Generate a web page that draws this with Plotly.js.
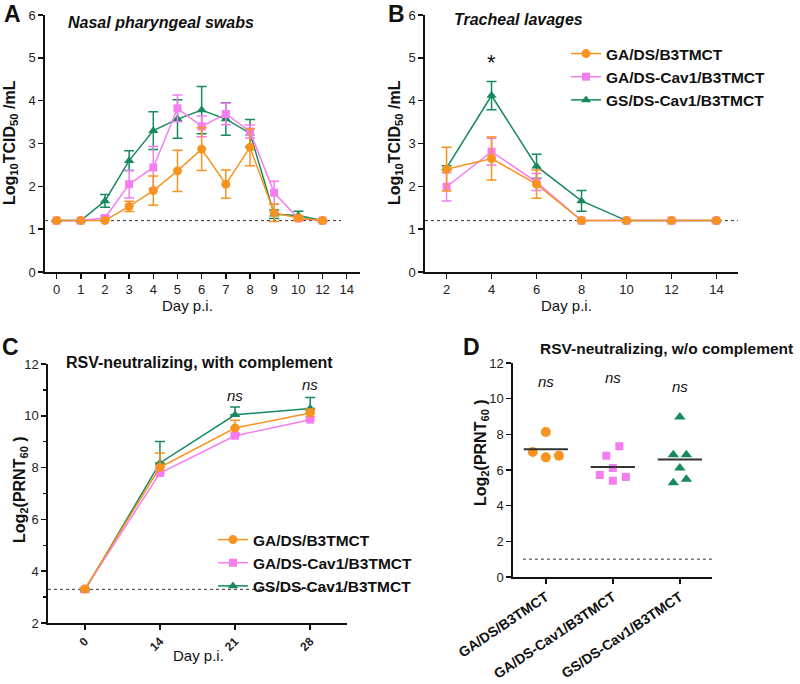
<!DOCTYPE html>
<html><head><meta charset="utf-8">
<script src="https://cdn.plot.ly/plotly-3.0.1.min.js"></script>
<style>html,body{margin:0;padding:0;background:#fff}#chart{width:800px;height:684px}</style>
</head><body><div id="chart"></div>
<script>
// ---------------- DATA ----------------
const seriesNames = ['GA/DS/B3TMCT', 'GA/DS-Cav1/B3TMCT', 'GS/DS-Cav1/B3TMCT'];

// Panel A: nasal pharyngeal swabs (Log10 TCID50/mL)
const daysA = [0, 1, 2, 3, 4, 5, 6, 7, 8, 9, 10, 12];
const tickLabelsA = ['0', '1', '2', '3', '4', '5', '6', '7', '8', '9', '10', '12', '14'];
const nasalGA = [1.2, 1.2, 1.2, 1.53, 1.90, 2.36, 2.87, 2.05, 2.91, 1.38, 1.26, 1.2];
const nasalGAerr = [0, 0, 0, 0.12, 0.34, 0.48, 0.50, 0.33, 0.43, 0.20, 0.05, 0];
const nasalGAcav = [1.2, 1.2, 1.26, 2.05, 2.44, 3.82, 3.40, 3.69, 3.28, 1.85, 1.25, 1.2];
const nasalGAcavErr = [0, 0, 0.05, 0.32, 0.49, 0.31, 0.24, 0.25, 0.15, 0.27, 0.05, 0];
const nasalGScav = [1.2, 1.2, 1.66, 2.60, 3.30, 3.57, 3.78, 3.57, 3.24, 1.35, 1.32, 1.2];
const nasalGScavErr = [0, 0, 0.15, 0.23, 0.44, 0.45, 0.55, 0.38, 0.32, 0.10, 0.10, 0];

// Panel B: tracheal lavages (Log10 TCID50/mL)
const daysB = [2, 4, 6, 8, 10, 12, 14];
const trachGA = [2.40, 2.65, 2.05, 1.2, 1.2, 1.2, 1.2];
const trachGAerr = [0.51, 0.50, 0.33, 0, 0, 0, 0];
const trachGAcav = [1.99, 2.81, 2.10, 1.2, 1.2, 1.2, 1.2];
const trachGAcavErr = [0.33, 0.31, 0.20, 0, 0, 0, 0];
const trachGScav = [2.43, 4.12, 2.47, 1.66, 1.2, 1.2, 1.2];
const trachGScavErr = [0.05, 0.33, 0.28, 0.24, 0, 0, 0];

// Panel C: RSV-neutralizing, with complement (Log2 PRNT60)
const daysC = ['0', '14', '21', '28'];
const nabGA = [3.31, 8.01, 9.53, 10.11];
const nabGAerr = [0.05, 0.55, 0.30, 0.15];
const nabGAcav = [3.30, 7.79, 9.23, 9.85];
const nabGAcavErr = [0, 0.10, 0.10, 0.10];
const nabGScav = [3.26, 8.18, 10.04, 10.28];
const nabGScavErr = [0, 0.83, 0.30, 0.43];

// Panel D: RSV-neutralizing, w/o complement (individual animals, Log2 PRNT60)
const prntGA = [8.13, 7.01, 6.71, 6.80];
const prntGAcav = [7.33, 6.80, 6.11, 5.72, 5.61, 5.40];
const prntGScav = [8.97, 6.86, 6.86, 6.11, 5.29, 5.48];

// limits of detection
const lodA = 1.2, lodB = 1.2, lodC = 3.3, lodD = 1.0;
// significance labels
const sigB = {day: 4, y: 4.9, text: '*'};
const sigC = [{day: '21', y: 10.8, text: 'ns'}, {day: '28', y: 11.2, text: 'ns'}];
const sigD = [{g: 0, y: 10.95, text: 'ns'}, {g: 1, y: 11.2, text: 'ns'}, {g: 2, y: 10.7, text: 'ns'}];

// ---------------- STYLE ----------------
const F = 'Liberation Sans, Arial, Helvetica, sans-serif';
const colors = ['#F7931E', '#F47EF0', '#168A5C'];
const symbols = ['circle', 'square', 'triangle-up'];
const msizes = [9, 8, 9];
const W = 800, H = 684;
const px = x => x / W, py = y => 1 - y / H;

const traces = [];
function addSeries(xs, ys, err, k, xa, ya, legend, upOnly) {
  const t = {
    type: 'scatter', mode: 'lines+markers', x: xs, y: ys, name: seriesNames[k],
    xaxis: xa, yaxis: ya, cliponaxis: false,
    line: {color: colors[k], width: 1.5},
    marker: {color: colors[k], symbol: symbols[k], size: msizes[k]},
    error_y: {type: 'data', array: err, visible: true, color: colors[k], thickness: 1.5, width: 5},
    showlegend: !!legend, legendrank: k + 1, hoverinfo: 'skip'
  };
  if (upOnly) { t.error_y.symmetric = false; t.error_y.arrayminus = err.map(() => 0); }
  if (legend) t.legend = legend;
  traces.push(t);
}

const xA = daysA.map(d => tickLabelsA.indexOf(String(d)));
const aY = [nasalGA, nasalGAcav, nasalGScav], aE = [nasalGAerr, nasalGAcavErr, nasalGScavErr];
const bY = [trachGA, trachGAcav, trachGScav], bE = [trachGAerr, trachGAcavErr, trachGScavErr];
const xC = daysC.map((d, i) => i);
const cY = [nabGA, nabGAcav, nabGScav], cE = [nabGAerr, nabGAcavErr, nabGScavErr];
for (const k of [2, 1, 0]) {
  addSeries(xA, aY[k], aE[k], k, 'x', 'y', null, false);
  addSeries(daysB, bY[k], bE[k], k, 'x2', 'y2', 'legend', false);
  addSeries(xC, cY[k], cE[k], k, 'x3', 'y3', 'legend2', true);
}

// Panel D: scatter dot plot with simple row-based spreading
const dGroups = [prntGA, prntGAcav, prntGScav];
const spread = 0.195, rowThresh = 0.6;
function swarm(vals, center) {
  const idx = vals.map((v, i) => i).sort((a, b) => vals[a] - vals[b]);
  const xs = new Array(vals.length);
  let i = 0;
  while (i < idx.length) {
    const row = [idx[i]];
    let j = i + 1;
    while (j < idx.length && vals[idx[j]] - vals[idx[i]] < rowThresh) { row.push(idx[j]); j++; }
    const n = row.length;
    const slots = [];
    if (n % 2 === 1) { slots.push(0); for (let s = 1; slots.length < n; s++) { slots.push(s); if (slots.length < n) slots.push(-s); } }
    else { for (let s = 0.5; slots.length < n; s++) { slots.push(-s); if (slots.length < n) slots.push(s); } }
    row.forEach((p, r) => { xs[p] = center + slots[r] * spread; });
    i = j;
  }
  return xs;
}
const shapes = [];
dGroups.forEach((vals, k) => {
  traces.push({
    type: 'scatter', mode: 'markers', x: swarm(vals, k), y: vals, name: seriesNames[k],
    xaxis: 'x4', yaxis: 'y4', showlegend: false, hoverinfo: 'skip',
    marker: {color: colors[k], symbol: symbols[k], size: k === 1 ? 8 : 10}
  });
  const mean = vals.reduce((a, b) => a + b, 0) / vals.length;
  shapes.push({type: 'line', xref: 'x4', yref: 'y4', x0: k - 0.33, x1: k + 0.33, y0: mean, y1: mean,
    line: {color: '#333', width: 2}, layer: 'above'});
});

// LOD dotted lines
[['x', 'y', lodA, 0.94], ['x2', 'y2', lodB, 1], ['x3', 'y3', lodC, 1], ['x4', 'y4', lodD, 1]].forEach(([xa, ya, v, end], i) => {
  shapes.push({type: 'line', xref: xa + ' domain', yref: ya, x0: i === 3 ? 0.05 : 0, x1: end, y0: v, y1: v,
    line: {color: '#333', width: 1, dash: 'dot'}, layer: 'below'});
});

// ---------------- AXES ----------------
const tickfont = {family: F, size: 13, color: '#222'};
const base = {showline: true, linecolor: '#111', linewidth: 1.6, ticks: 'outside', ticklen: 5, tickwidth: 1.5,
  tickcolor: '#111', showgrid: false, zeroline: false, tickfont: tickfont, fixedrange: true};

const layout = {
  width: W, height: H, margin: {l: 0, r: 0, t: 0, b: 0}, paper_bgcolor: '#fff', plot_bgcolor: 'rgba(0,0,0,0)',
  showlegend: true,
  xaxis: Object.assign({}, base, {domain: [px(45), px(360)], range: [-0.48, 12.55], tickmode: 'array',
    tickvals: tickLabelsA.map((t, i) => i), ticktext: tickLabelsA, anchor: 'y'}),
  yaxis: Object.assign({}, base, {domain: [py(272), py(15)], range: [0, 6], dtick: 1, anchor: 'x'}),
  xaxis2: Object.assign({}, base, {domain: [px(425), px(738)], range: [1.04, 14.96], tickmode: 'array',
    tickvals: daysB, anchor: 'y2'}),
  yaxis2: Object.assign({}, base, {domain: [py(272), py(15)], range: [0, 6], dtick: 1, anchor: 'x2'}),
  xaxis3: Object.assign({}, base, {domain: [px(48), px(347)], range: [-0.49, 3.49], tickmode: 'array',
    tickvals: xC, ticktext: daysC, tickangle: -45, anchor: 'y3',
    tickfont: {family: F, size: 12, color: '#222', weight: 'bold'}}),
  yaxis3: Object.assign({}, base, {domain: [py(623), py(364)], range: [2, 12], dtick: 2, anchor: 'x3',
    minor: {ticks: 'outside', dtick: 1, ticklen: 3, tickwidth: 1.2, tickcolor: '#111'}}),
  xaxis4: Object.assign({}, base, {domain: [px(513), px(712)], range: [-0.49, 2.48], tickmode: 'array',
    tickvals: [0, 1, 2], ticktext: seriesNames, tickangle: -34, anchor: 'y4',
    tickfont: {family: F, size: 14, color: '#111', weight: 'bold'}}),
  yaxis4: Object.assign({}, base, {domain: [py(577), py(363)], range: [0, 12], dtick: 2, anchor: 'x4'}),
  legend: {x: px(566), y: py(37), xanchor: 'left', yanchor: 'top', bgcolor: 'rgba(0,0,0,0)',
    font: {family: F, size: 15.5, color: '#111', weight: 'bold'}, tracegroupgap: 0, itemwidth: 30},
  legend2: {x: px(213), y: py(523), xanchor: 'left', yanchor: 'top', bgcolor: 'rgba(0,0,0,0)',
    font: {family: F, size: 15.5, color: '#111', weight: 'bold'}, tracegroupgap: 0, itemwidth: 30},
  shapes: shapes,
  annotations: []
};

const ann = layout.annotations;
function paperText(text, x, y, size, opts) {
  ann.push(Object.assign({text: text, x: px(x), y: py(y), xref: 'paper', yref: 'paper', showarrow: false,
    xanchor: 'center', yanchor: 'middle', font: {family: F, size: size, color: '#111'}}, opts || {}));
}
// panel letters
paperText('<b>A</b>', 12, 14, 23);
paperText('<b>B</b>', 396, 14, 23);
paperText('<b>C</b>', 10, 347, 23);
paperText('<b>D</b>', 471, 347, 23);
// panel titles
paperText('<b><i>Nasal pharyngeal swabs</i></b>', 66, 23, 16, {xanchor: 'left'});
paperText('<b><i>Tracheal lavages</i></b>', 452, 19, 16, {xanchor: 'left'});
paperText('<b>RSV-neutralizing, with complement</b>', 64, 362, 16, {xanchor: 'left'});
paperText('<b>RSV-neutralizing, w/o complement</b>', 538, 348, 15.5, {xanchor: 'left'});
// axis titles
const yTitleA = '<b>Log<sub>10</sub>TCID<sub>50</sub> /mL</b>';
const yTitleC = '<b>Log<sub>2</sub>(PRNT<sub>60</sub> )</b>';
paperText(yTitleA, 11, 143, 16, {textangle: -90});
paperText(yTitleA, 396, 143, 16, {textangle: -90});
paperText(yTitleC, 20, 490, 16, {textangle: -90});
paperText(yTitleC, 481, 452, 16, {textangle: -90});
paperText('Day p.i.', 187, 305, 15);
paperText('Day p.i.', 566, 305, 15);
paperText('Day p.i.', 198, 655, 15);
// significance marks
ann.push({text: sigB.text, x: sigB.day, y: sigB.y, xref: 'x2', yref: 'y2', showarrow: false,
  font: {family: F, size: 22, color: '#111'}});
sigC.forEach(s => ann.push({text: '<i>' + s.text + '</i>', x: daysC.indexOf(s.day), y: s.y, xref: 'x3', yref: 'y3',
  showarrow: false, font: {family: F, size: 15, color: '#111'}}));
sigD.forEach(s => ann.push({text: '<i>' + s.text + '</i>', x: s.g, y: s.y, xref: 'x4', yref: 'y4',
  showarrow: false, font: {family: F, size: 15, color: '#111'}}));

Plotly.newPlot('chart', traces, layout, {displayModeBar: false, staticPlot: true});
</script>
</body></html>
